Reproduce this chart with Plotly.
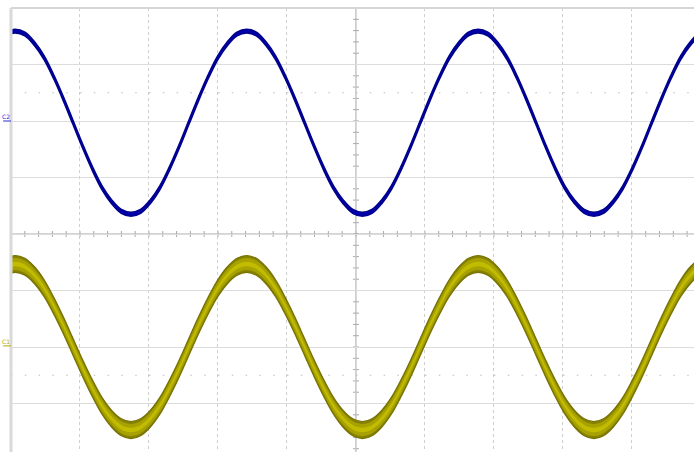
import plotly.graph_objects as go

# screen readings, in divisions (10 x 8 graticule, centre at 0, 0)
t_div = [
    -0.079, 0.061, 0.201, 0.340, 0.480, 0.620, 0.760, 0.900, 1.040, 1.179,
    1.319, 1.459, 1.599, 1.739, 1.878, 2.018, 2.158, 2.298, 2.438, 2.577,
    2.717, 2.857, 2.997, 3.137, 3.276, 3.416, 3.556, 3.695, 3.835, 3.975,
    4.115, 4.255, 4.395, 4.534, 4.674, 4.814, 4.954, 5.094, 5.233, 5.373,
    5.513, 5.653, 5.793, 5.932, 6.072, 6.212, 6.352, 6.492, 6.631, 6.771,
    6.911, 7.050, 7.190, 7.330, 7.470, 7.610, 7.750, 7.889, 8.029, 8.169,
    8.309, 8.449, 8.588, 8.728, 8.868, 9.008, 9.148, 9.287, 9.427, 9.567,
    9.707, 9.847, 9.986, 10.126,
]
ch2_div = [
    3.54, 3.59, 3.54, 3.37, 3.12, 2.78, 2.39, 1.97, 1.55, 1.16,
    0.82, 0.57, 0.40, 0.35, 0.40, 0.57, 0.82, 1.16, 1.55, 1.97,
    2.39, 2.78, 3.12, 3.37, 3.54, 3.59, 3.54, 3.37, 3.12, 2.78,
    2.39, 1.97, 1.55, 1.16, 0.82, 0.57, 0.40, 0.35, 0.40, 0.57,
    0.82, 1.16, 1.55, 1.97, 2.39, 2.78, 3.12, 3.37, 3.54, 3.59,
    3.54, 3.37, 3.12, 2.78, 2.39, 1.97, 1.55, 1.16, 0.82, 0.57,
    0.40, 0.35, 0.40, 0.57, 0.82, 1.16, 1.55, 1.97, 2.39, 2.78,
    3.12, 3.37, 3.54, 3.59,
]
ch1_div = [
    -0.58, -0.53, -0.58, -0.73, -0.96, -1.27, -1.62, -2.00, -2.38, -2.73,
    -3.04, -3.27, -3.42, -3.47, -3.42, -3.27, -3.04, -2.73, -2.38, -2.00,
    -1.62, -1.27, -0.96, -0.73, -0.58, -0.53, -0.58, -0.73, -0.96, -1.27,
    -1.62, -2.00, -2.38, -2.73, -3.04, -3.27, -3.42, -3.47, -3.42, -3.27,
    -3.04, -2.73, -2.38, -2.00, -1.62, -1.27, -0.96, -0.73, -0.58, -0.53,
    -0.58, -0.73, -0.96, -1.27, -1.62, -2.00, -2.38, -2.73, -3.04, -3.27,
    -3.42, -3.47, -3.42, -3.27, -3.04, -2.73, -2.38, -2.00, -1.62, -1.27,
    -0.96, -0.73, -0.58, -0.53,
]
channel_labels = ["C2", "C1"]
channel_offsets = [2.0, -1.98]
dotted_levels = [2.5, -2.5]

X_VIEW = [0, 9.9]
Y_VIEW = [-3.858, 4]


def add_band(fig, ys, half, fillcolor, edgecolor, edgewidth):
    """Trace drawn as a vertical band (scope persistence look)."""
    fig.add_trace(
        go.Scatter(
            x=t_div,
            y=[v - half for v in ys],
            mode="lines",
            line=dict(shape="spline", width=edgewidth, color=edgecolor),
            hoverinfo="skip",
            showlegend=False,
        )
    )
    fig.add_trace(
        go.Scatter(
            x=t_div,
            y=[v + half for v in ys],
            mode="lines",
            line=dict(shape="spline", width=edgewidth, color=edgecolor),
            fill="tonexty",
            fillcolor=fillcolor,
            hoverinfo="skip",
            showlegend=False,
        )
    )


fig = go.Figure()

# channel 1 (yellow): dark rim, mid band, light core
add_band(fig, ch1_div, 0.15, "#878200", "#767200", 1.2)
add_band(fig, ch1_div, 0.105, "#a8a200", "#a8a200", 0)
add_band(fig, ch1_div, 0.04, "#c2bc00", "#c2bc00", 0)

# channel 2 (blue)
add_band(fig, ch2_div, 0.032, "#0000b0", "#000090", 1.8)

# graticule extras: centre cross with minor ticks, dotted levels, borders
grey = "#a9a9a9"
fig.add_hline(y=0, line=dict(color=grey, width=1), layer="below")
fig.add_vline(x=5, line=dict(color=grey, width=1), layer="below")
for i in range(1, 50):
    fig.add_shape(
        type="line", xref="x", yref="y", x0=i * 0.2, x1=i * 0.2,
        ysizemode="pixel", yanchor=0, y0=-3, y1=3,
        line=dict(color=grey, width=1), layer="below",
    )
for j in range(-20, 21):
    fig.add_shape(
        type="line", xref="x", yref="y", y0=j * 0.2, y1=j * 0.2,
        xsizemode="pixel", xanchor=5, x0=-3, x1=3,
        line=dict(color=grey, width=1), layer="below",
    )
for lvl in dotted_levels:
    fig.add_shape(
        type="line", xref="x", yref="y", x0=0, x1=X_VIEW[1], y0=lvl, y1=lvl,
        line=dict(color="#bdbdbd", width=1.2, dash="1.5px,12.3px"),
        layer="below",
    )
fig.add_shape(
    type="line", xref="paper", yref="paper", x0=0, x1=1, y0=1, y1=1,
    line=dict(color="#d6d6d6", width=2),
)
fig.add_shape(
    type="line", xref="paper", yref="paper", x0=0, x1=0, y0=0, y1=1,
    line=dict(color="#d9d9d9", width=3),
)

# channel markers at the left edge
for name, off, col in zip(channel_labels, channel_offsets, ["#2a2ad8", "#b3aa00"]):
    fig.add_annotation(
        x=-0.008, xref="paper", y=off - 0.02, yref="y", text=name,
        showarrow=False, xanchor="center", yanchor="bottom",
        font=dict(size=6, color=col, family="DejaVu Sans"),
    )
    fig.add_shape(
        type="line", xref="paper", yref="y", x0=-0.0115, x1=0,
        y0=off, y1=off, line=dict(color=col, width=1),
    )

fig.update_xaxes(
    range=X_VIEW, dtick=1, tick0=0, showgrid=True, gridcolor="#cfcfcf",
    griddash="3px,3px", gridwidth=1, zeroline=False, showticklabels=False,
    ticks="", showline=False,
)
fig.update_yaxes(
    range=Y_VIEW, dtick=1, tick0=0, showgrid=True, gridcolor="#dcdcdc",
    gridwidth=1, zeroline=False, showticklabels=False, ticks="",
    showline=False,
)
fig.update_layout(
    width=694,
    height=452,
    margin=dict(l=11, r=0, t=8, b=0, autoexpand=False),
    paper_bgcolor="white",
    plot_bgcolor="white",
    showlegend=False,
)
# the page body has a default 8px margin; drop it so the figure sits at 0,0
fig.write_html(
    "out.html",
    config={"displayModeBar": False},
    post_script="document.body.style.margin='0';",
)
